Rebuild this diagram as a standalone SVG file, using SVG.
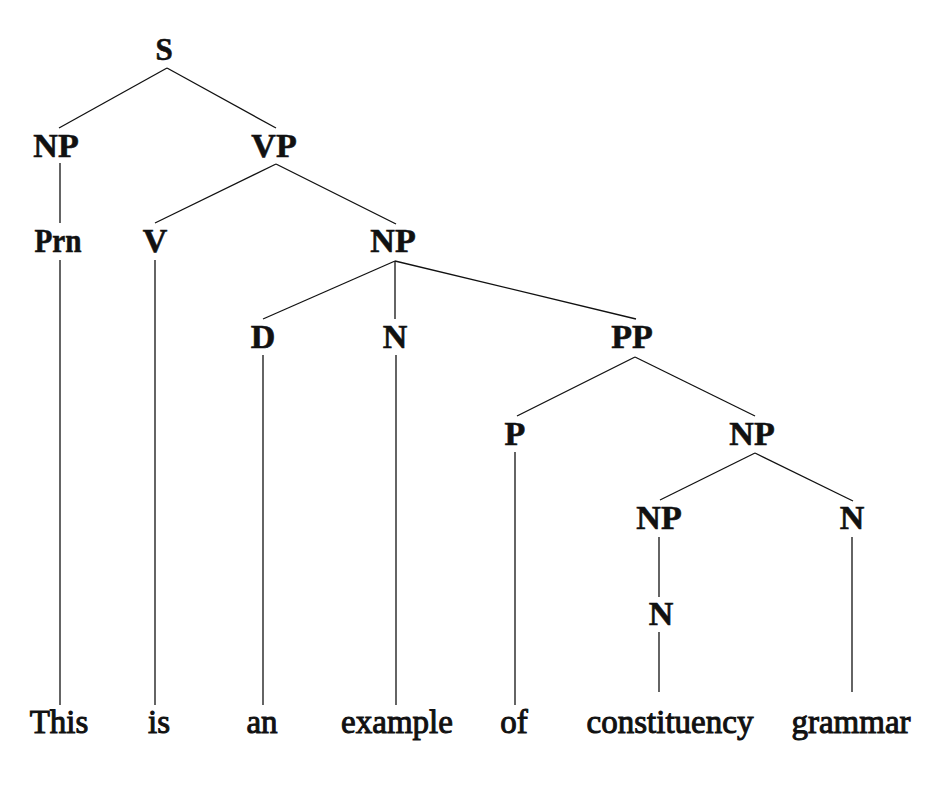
<svg xmlns="http://www.w3.org/2000/svg" width="936" height="786" viewBox="0 0 936 786">
<style>
.lbl{font-family:"Liberation Serif","Times New Roman",serif;font-weight:bold;font-size:34px;fill:#111;text-anchor:middle;stroke:#111;stroke-width:0.6}
.word{font-family:"Liberation Serif","Times New Roman",serif;font-size:33px;fill:#111;text-anchor:middle;stroke:#111;stroke-width:1}
.edge{stroke:#111;stroke-width:1.3;fill:none}
</style>
<rect width="936" height="786" fill="#fff"/>
<g id="connectors" class="edge">
<line x1="167" y1="68" x2="59" y2="128"/>
<line x1="167" y1="68" x2="276" y2="128"/>
<line x1="60" y1="163" x2="60" y2="223"/>
<line x1="276" y1="164" x2="155" y2="223"/>
<line x1="276" y1="164" x2="396" y2="224"/>
<line x1="60" y1="260" x2="60" y2="705"/>
<line x1="155" y1="260" x2="155" y2="705"/>
<line x1="395" y1="261" x2="263" y2="319"/>
<line x1="395" y1="261" x2="395" y2="319"/>
<line x1="395" y1="261" x2="636" y2="319"/>
<line x1="263" y1="355" x2="263" y2="705"/>
<line x1="396" y1="355" x2="396" y2="705"/>
<line x1="635" y1="357" x2="517" y2="416"/>
<line x1="635" y1="357" x2="755" y2="416"/>
<line x1="515" y1="452" x2="515" y2="705"/>
<line x1="755" y1="453" x2="660" y2="500"/>
<line x1="755" y1="453" x2="853" y2="501"/>
<line x1="659" y1="537" x2="659" y2="597"/>
<line x1="659" y1="632" x2="659" y2="692"/>
<line x1="852" y1="537" x2="852" y2="692"/>
</g>
<g id="n-S"><text class="lbl" x="164" y="60" style="font-size:31px">S</text></g>
<g id="n-NP1"><text class="lbl" x="56" y="157">NP</text></g>
<g id="n-VP"><text class="lbl" x="274" y="157">VP</text></g>
<g id="n-Prn"><text class="lbl" x="58" y="252" textLength="47" lengthAdjust="spacingAndGlyphs">Prn</text></g>
<g id="n-V"><text class="lbl" x="155" y="252">V</text></g>
<g id="n-NP2"><text class="lbl" x="393" y="252">NP</text></g>
<g id="n-D"><text class="lbl" x="263" y="348">D</text></g>
<g id="n-N1"><text class="lbl" x="395" y="348">N</text></g>
<g id="n-PP"><text class="lbl" x="632" y="348">PP</text></g>
<g id="n-P"><text class="lbl" x="515" y="445">P</text></g>
<g id="n-NP3"><text class="lbl" x="752" y="445">NP</text></g>
<g id="n-NP4"><text class="lbl" x="659" y="529">NP</text></g>
<g id="n-N2"><text class="lbl" x="852" y="529">N</text></g>
<g id="n-N3"><text class="lbl" x="661" y="625">N</text></g>
<g id="w-This"><text class="word" x="59" y="733">This</text></g>
<g id="w-is"><text class="word" x="159" y="733">is</text></g>
<g id="w-an"><text class="word" x="262" y="733">an</text></g>
<g id="w-example"><text class="word" x="397" y="733">example</text></g>
<g id="w-of"><text class="word" x="514" y="733">of</text></g>
<g id="w-constituency"><text class="word" x="670" y="733">constituency</text></g>
<g id="w-grammar"><text class="word" x="851" y="733">grammar</text></g>
</svg>
